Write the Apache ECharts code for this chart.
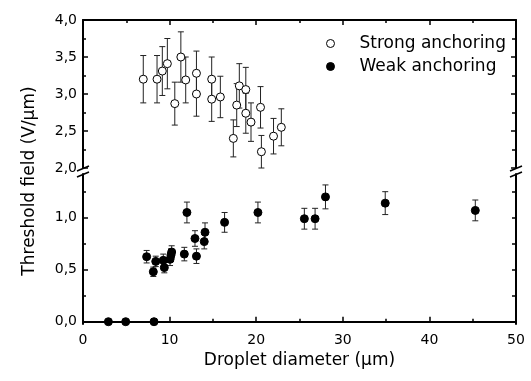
<!DOCTYPE html>
<html>
<head>
<meta charset="utf-8">
<script src="https://cdn.jsdelivr.net/npm/echarts@6/dist/echarts.min.js"></script>
<style>html,body{margin:0;padding:0;background:#fff}#c{width:531px;height:381px}</style>
</head>
<body>
<div id="c"></div>
<script>
// Strong anchoring (upper panel): diameter (µm), threshold field (V/µm), error
var strongX = [6.96, 8.55, 9.16, 9.74, 10.6, 11.3, 11.86, 13.1, 13.1, 14.86, 14.86, 15.86, 17.36, 17.75, 18.05, 18.8, 18.8, 19.4, 20.5, 20.6, 22.0, 22.9];
var strongY = [3.20, 3.20, 3.31, 3.41, 2.87, 3.50, 3.19, 3.28, 3.00, 3.20, 2.93, 2.96, 2.40, 2.85, 3.11, 3.06, 2.74, 2.62, 2.82, 2.22, 2.43, 2.55];
var strongErr = [0.32, 0.32, 0.33, 0.34, 0.29, 0.34, 0.31, 0.30, 0.30, 0.30, 0.30, 0.28, 0.25, 0.29, 0.30, 0.30, 0.27, 0.26, 0.28, 0.22, 0.24, 0.25];
// Weak anchoring (lower panel)
var weakX = [2.93, 4.93, 8.2, 7.35, 8.12, 8.4, 9.27, 9.39, 10.05, 10.16, 10.24, 11.7, 12.0, 12.93, 13.1, 14.0, 14.09, 16.35, 20.2, 25.56, 26.8, 28.0, 34.9, 45.3];
var weakY = [0, 0, 0, 0.625, 0.48, 0.58, 0.59, 0.52, 0.60, 0.64, 0.67, 0.65, 1.05, 0.80, 0.63, 0.77, 0.86, 0.955, 1.05, 0.99, 0.99, 1.20, 1.14, 1.07];
var weakErr = [0, 0, 0, 0.06, 0.045, 0.05, 0.06, 0.05, 0.06, 0.06, 0.06, 0.065, 0.10, 0.075, 0.07, 0.07, 0.09, 0.095, 0.10, 0.10, 0.10, 0.115, 0.11, 0.10];
// Tick values
var upperTicks = [2.0, 2.5, 3.0, 3.5, 4.0];
var lowerMajor = [0, 0.5, 1.0];
var lowerMinor = [0.25, 0.75, 1.25];
var seriesNames = ['Strong anchoring', 'Weak anchoring'];
var xTitle = 'Droplet diameter (\u03bcm)';
var yTitle = 'Threshold field (V/\u03bcm)';

var FONT = 'DejaVu Sans';
function fmt(v) { return Number(v).toFixed(1).replace('.', ','); }
function pts(xs, ys) { return xs.map(function (x, i) { return [x, ys[i]]; }); }
function errs(xs, ys, es) {
  var out = [];
  xs.forEach(function (x, i) { if (es[i] > 0) out.push([x, ys[i] - es[i], ys[i] + es[i]]); });
  return out;
}
function errRender(params, api) {
  var x = api.value(0), lo = api.value(1), hi = api.value(2);
  var a = api.coord([x, hi]), b = api.coord([x, lo]);
  var w = 3;
  var st = { stroke: '#222', lineWidth: 1 };
  return { type: 'group', children: [
    { type: 'line', shape: { x1: a[0], y1: a[1], x2: b[0], y2: b[1] }, style: st },
    { type: 'line', shape: { x1: a[0] - w, y1: a[1], x2: a[0] + w, y2: a[1] }, style: st },
    { type: 'line', shape: { x1: b[0] - w, y1: b[1], x2: b[0] + w, y2: b[1] }, style: st }
  ]};
}
var axLine = { show: true, lineStyle: { color: '#000', width: 2 } };
var chart = echarts.init(document.getElementById('c'), null, { renderer: 'canvas' });
var option = {
  animation: false,
  backgroundColor: '#fff',
  textStyle: { fontFamily: FONT },
  grid: [
    { left: 83, right: 15, top: 20, height: 148 },
    { left: 83, right: 15, top: 174, height: 150 }
  ],
  xAxis: [
    { gridIndex: 0, type: 'value', position: 'top', min: 0, max: 50, interval: 10,
      axisLine: axLine, axisTick: { inside: true, length: 5, lineStyle: { color: '#000', width: 1.5 } },
      minorTick: { show: true, splitNumber: 2, length: 3, lineStyle: { color: '#000', width: 1.5 } },
      axisLabel: { show: false }, splitLine: { show: false } },
    { gridIndex: 1, type: 'value', position: 'bottom', min: 0, max: 50, interval: 10,
      axisLine: axLine, axisTick: { inside: true, length: 5, lineStyle: { color: '#000', width: 1.5 } },
      minorTick: { show: true, splitNumber: 2, length: 3, lineStyle: { color: '#000', width: 1.5 } },
      axisLabel: { margin: 9, color: '#000', fontSize: 14, fontFamily: FONT },
      splitLine: { show: false },
      name: xTitle, nameLocation: 'middle', nameGap: 28,
      nameTextStyle: { fontSize: 17, color: '#000', fontFamily: FONT } }
  ],
  yAxis: [
    { gridIndex: 0, type: 'value', position: 'left', min: 2, max: 4, interval: 0.5,
      axisLine: axLine, axisTick: { inside: true, length: 5, lineStyle: { color: '#000', width: 1.5 } },
      minorTick: { show: true, splitNumber: 2, length: 3, lineStyle: { color: '#000', width: 1.5 } },
      axisLabel: { margin: 6, color: '#000', fontSize: 14, fontFamily: FONT, formatter: fmt },
      splitLine: { show: false } },
    { gridIndex: 0, type: 'value', position: 'right', min: 2, max: 4, interval: 0.5,
      axisLine: axLine, axisTick: { inside: true, length: 5, lineStyle: { color: '#000', width: 1.5 } },
      minorTick: { show: true, splitNumber: 2, length: 4, lineStyle: { color: '#000', width: 1.5 } },
      axisLabel: { show: false }, splitLine: { show: false } },
    { gridIndex: 1, type: 'value', position: 'left', min: -0.022, max: 1.42,
      axisLine: axLine,
      axisTick: { inside: true, length: 5, customValues: lowerMajor, lineStyle: { color: '#000', width: 1.5 } },
      axisLabel: { margin: 6, color: '#000', fontSize: 14, fontFamily: FONT, formatter: fmt, customValues: lowerMajor },
      splitLine: { show: false } },
    { gridIndex: 1, type: 'value', position: 'left', min: -0.022, max: 1.42,
      axisLine: { show: false },
      axisTick: { inside: true, length: 3, customValues: lowerMinor, lineStyle: { color: '#000', width: 1.5 } },
      axisLabel: { show: false }, splitLine: { show: false } },
    { gridIndex: 1, type: 'value', position: 'right', min: -0.022, max: 1.42,
      axisLine: axLine,
      axisTick: { inside: true, length: 4, customValues: lowerMajor.concat(lowerMinor), lineStyle: { color: '#000', width: 1.5 } },
      axisLabel: { show: false }, splitLine: { show: false } }
  ],
  legend: {
    orient: 'vertical', left: 321, top: 30, itemWidth: 8, itemHeight: 8, itemGap: 6,
    data: [
      { name: seriesNames[0], icon: 'circle', itemStyle: { color: '#fff', borderColor: '#000', borderWidth: 1 } },
      { name: seriesNames[1], icon: 'circle', itemStyle: { color: '#000', borderColor: '#000', borderWidth: 1 } }
    ],
    textStyle: { fontSize: 17, color: '#000', fontFamily: FONT, padding: [0, 0, 0, 20] }
  },
  series: [
    { name: 'strongErr', type: 'custom', xAxisIndex: 0, yAxisIndex: 0, clip: false,
      renderItem: errRender, data: errs(strongX, strongY, strongErr), z: 1 },
    { name: seriesNames[0], type: 'scatter', xAxisIndex: 0, yAxisIndex: 0, clip: false,
      symbol: 'circle', symbolSize: 8,
      itemStyle: { color: '#fff', borderColor: '#000', borderWidth: 1, opacity: 1 },
      data: pts(strongX, strongY), z: 3 },
    { name: 'weakErr', type: 'custom', xAxisIndex: 1, yAxisIndex: 2, clip: false,
      renderItem: errRender, data: errs(weakX, weakY, weakErr), z: 1 },
    { name: seriesNames[1], type: 'scatter', xAxisIndex: 1, yAxisIndex: 2, clip: false,
      symbol: 'circle', symbolSize: 8,
      itemStyle: { color: '#000', borderColor: '#000', borderWidth: 1, opacity: 1 },
      data: pts(weakX, weakY), z: 3 }
  ],
  graphic: [
    { type: 'text', x: 30, y: 181, rotation: Math.PI / 2,
      style: { text: yTitle, fontSize: 17, fontFamily: FONT, fill: '#000', align: 'center', verticalAlign: 'middle' } },
    { type: 'line', shape: { x1: 77, y1: 171, x2: 89, y2: 166 }, style: { stroke: '#000', lineWidth: 1.5 } },
    { type: 'line', shape: { x1: 77, y1: 177, x2: 89, y2: 172 }, style: { stroke: '#000', lineWidth: 1.5 } },
    { type: 'line', shape: { x1: 510, y1: 171, x2: 522, y2: 166 }, style: { stroke: '#000', lineWidth: 1.5 } },
    { type: 'line', shape: { x1: 510, y1: 177, x2: 522, y2: 172 }, style: { stroke: '#000', lineWidth: 1.5 } }
  ]
};
chart.setOption(option);
</script>
</body>
</html>
